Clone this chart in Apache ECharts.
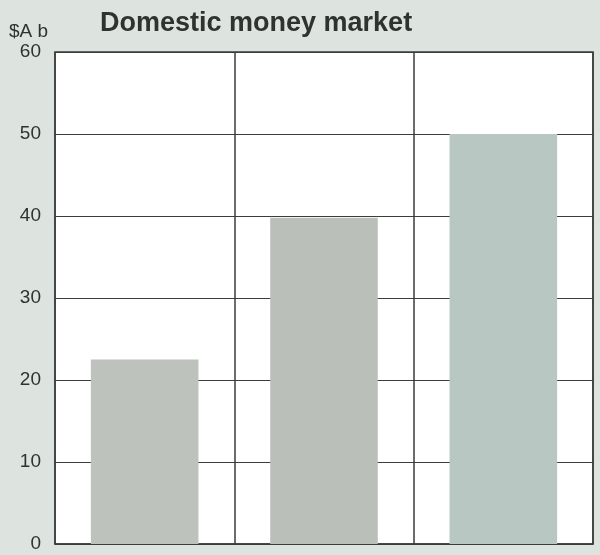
<!DOCTYPE html>
<html><head><meta charset="utf-8">
<script src="https://cdn.jsdelivr.net/npm/echarts@6/dist/echarts.min.js"></script>
<style>html,body{margin:0;padding:0;background:#dde3df;}#c{width:600px;height:555px;}</style>
</head><body><div id="c"></div>
<script>
const categories = ["Period 1", "Period 2", "Period 3"];
const values = [22.5, 39.8, 50.0];
const barColors = ["#bec2bd", "#bbbfba", "#b8c7c1"];
const yTicks = [0, 10, 20, 30, 40, 50, 60];
const titleText = "Domestic money market";
const unitText = "$A b";

const chart = echarts.init(document.getElementById('c'), null, {renderer: 'canvas'});
chart.setOption({
  backgroundColor: '#dde3df',
  animation: false,
  title: {
    text: titleText, left: 95, top: 5,
    textStyle: {fontFamily: 'Liberation Sans, Arial, sans-serif', fontWeight: 'bold', fontSize: 27, color: '#2e3331'}
  },
  graphic: [{
    type: 'text', left: 9, top: 22,
    style: {text: unitText, font: '19px "Liberation Sans", Arial, sans-serif', fill: '#2e3331'}
  }],
  grid: {left: 55, right: 7, top: 52, bottom: 11, show: true, backgroundColor: '#ffffff', borderColor: '#3a3d3c', borderWidth: 1.5},
  xAxis: {
    type: 'category', data: categories, boundaryGap: true,
    axisLine: {show: true, lineStyle: {color: '#3a3d3c', width: 1.5}},
    axisTick: {show: false}, axisLabel: {show: false},
    splitLine: {show: true, lineStyle: {color: '#3a3d3c', width: 1.5}}
  },
  yAxis: {
    type: 'value', min: yTicks[0], max: yTicks[yTicks.length - 1], interval: 10,
    axisLine: {show: false}, axisTick: {show: false},
    axisLabel: {color: '#2e3331', fontSize: 19, fontFamily: 'Liberation Sans, Arial, sans-serif', margin: 14},
    splitLine: {show: true, lineStyle: {color: '#3a3d3c', width: 1.2}}
  },
  series: [{
    type: 'bar', barWidth: '60%',
    data: values.map((v, i) => ({value: v, itemStyle: {color: barColors[i]}}))
  }]
});
</script></body></html>
